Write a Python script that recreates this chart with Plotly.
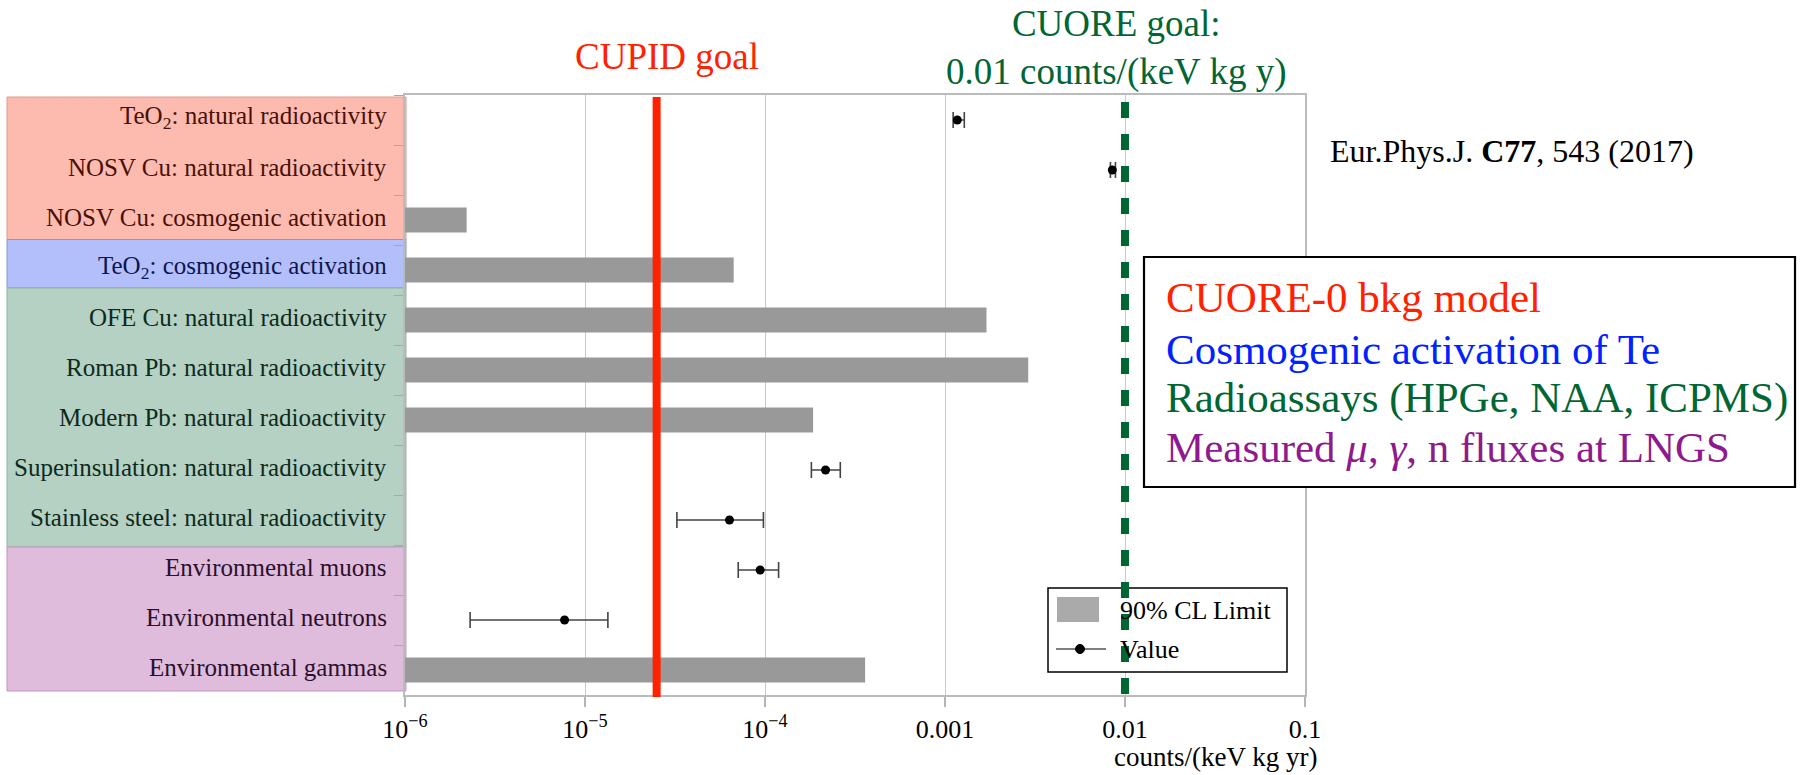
import plotly.graph_objects as go

# Background sources, top to bottom
categories = [
    "TeO<sub>2</sub>: natural radioactivity",
    "NOSV Cu: natural radioactivity",
    "NOSV Cu: cosmogenic activation",
    "TeO<sub>2</sub>: cosmogenic activation",
    "OFE Cu: natural radioactivity",
    "Roman Pb: natural radioactivity",
    "Modern Pb: natural radioactivity",
    "Superinsulation: natural radioactivity",
    "Stainless steel: natural radioactivity",
    "Environmental muons",
    "Environmental neutrons",
    "Environmental gammas",
]
# Group of each source (colour of its label band)
groups = ["model", "model", "model", "cosmo",
          "assay", "assay", "assay", "assay", "assay",
          "flux", "flux", "flux"]

# 90% CL upper limits, counts/(keV kg yr)
limit_cats = [
    "NOSV Cu: cosmogenic activation",
    "TeO<sub>2</sub>: cosmogenic activation",
    "OFE Cu: natural radioactivity",
    "Roman Pb: natural radioactivity",
    "Modern Pb: natural radioactivity",
    "Environmental gammas",
]
limit_vals = [2.2e-6, 6.7e-5, 1.7e-3, 2.9e-3, 1.85e-4, 3.6e-4]

# Measured values with their lower / upper bounds
value_cats = [
    "TeO<sub>2</sub>: natural radioactivity",
    "NOSV Cu: natural radioactivity",
    "Superinsulation: natural radioactivity",
    "Stainless steel: natural radioactivity",
    "Environmental muons",
    "Environmental neutrons",
]
value_vals = [1.17e-3, 8.5e-3, 2.17e-4, 6.35e-5, 9.4e-5, 7.7e-6]
value_lo = [1.11e-3, 8.3e-3, 1.81e-4, 3.24e-5, 7.1e-5, 2.3e-6]
value_hi = [1.28e-3, 8.85e-3, 2.62e-4, 9.8e-5, 1.19e-4, 1.34e-5]

cupid_goal = 2.5e-5
cuore_goal = 0.01

x_tickvals = [1e-6, 1e-5, 1e-4, 1e-3, 1e-2, 1e-1]
x_ticktext = ["10<sup>\u22126</sup>", "10<sup>\u22125</sup>", "10<sup>\u22124</sup>",
              "0.001", "0.01", "0.1"]

FONT = "Liberation Serif"
RED = "#ff2200"
BLUE = "#0022ff"
GREEN = "#006633"
PURPLE = "#8e1a8e"

band_fill = {"model": "#fdbbb0", "cosmo": "#b3bffa", "assay": "#b4d1c3", "flux": "#dfbcdc"}
band_edge = {"model": "#e09a8e", "cosmo": "#8796d8", "assay": "#8fb3a1", "flux": "#c096bd"}
label_color = {"model": "#4a1006", "cosmo": "#0e1650", "assay": "#0e2a1c", "flux": "#2c0f2c"}
# band extents in category units (top, bottom)
band_span = {"model": (-0.46, 2.39), "cosmo": (2.39, 3.36),
             "assay": (3.36, 8.54), "flux": (8.54, 11.42)}

W, H = 1806, 775
L, R, T, B = 405, 1305, 95, 695


def px(xp):
    return (xp - L) / (R - L)


def py(yp):
    return (B - yp) / (B - T)


fig = go.Figure()

fig.add_trace(go.Bar(
    x=limit_vals, y=limit_cats, orientation="h", width=0.5,
    marker=dict(color="#999999", line=dict(width=0)),
    showlegend=False, name="90% CL Limit",
))

fig.add_trace(go.Scatter(
    x=value_vals, y=value_cats, mode="markers",
    marker=dict(color="black", size=9),
    error_x=dict(type="data", symmetric=False,
                 array=[h - v for h, v in zip(value_hi, value_vals)],
                 arrayminus=[v - l for v, l in zip(value_vals, value_lo)],
                 color="#444444", thickness=1.6, width=8),
    showlegend=False, name="Value",
))

shapes = []
# coloured label bands
for g in ["model", "cosmo", "assay", "flux"]:
    y0, y1 = band_span[g]
    shapes.append(dict(type="rect", xref="paper", yref="y",
                       x0=px(7), x1=px(406), y0=y0, y1=y1,
                       fillcolor=band_fill[g], line=dict(color=band_edge[g], width=1),
                       layer="below"))

# legend frame and symbols
shapes += [
    dict(type="rect", xref="paper", yref="paper", x0=px(1048), x1=px(1287),
         y0=py(672), y1=py(588), fillcolor="white", line=dict(color="black", width=1.5)),
    dict(type="rect", xref="paper", yref="paper", x0=px(1057), x1=px(1099),
         y0=py(622), y1=py(597), fillcolor="#aaaaaa", line=dict(width=0)),
    dict(type="line", xref="paper", yref="paper", x0=px(1056), x1=px(1106),
         y0=py(649), y1=py(649), line=dict(color="black", width=1.2)),
    dict(type="circle", xref="paper", yref="paper", x0=px(1075.5), x1=px(1084.5),
         y0=py(653.5), y1=py(644.5), fillcolor="black", line=dict(color="black", width=1)),
]

# source-category box
shapes.append(dict(type="rect", xref="paper", yref="paper", x0=px(1144), x1=px(1795),
                   y0=py(487), y1=py(257), fillcolor="white",
                   line=dict(color="black", width=2.2)))

# goal lines
shapes.append(dict(type="line", xref="x", yref="paper", x0=cupid_goal, x1=cupid_goal,
                   y0=py(97), y1=py(697), line=dict(color=RED, width=8)))
shapes.append(dict(type="line", xref="x", yref="paper", x0=cuore_goal, x1=cuore_goal,
                   y0=py(102), y1=py(695), line=dict(color=GREEN, width=8, dash="16px,16px")))

annotations = []
for cat, g in zip(categories, groups):
    annotations.append(dict(xref="paper", yref="y", x=px(389), y=cat, text=cat,
                            xanchor="right", yanchor="middle", showarrow=False, yshift=3,
                            font=dict(family=FONT, size=25, color=label_color[g])))

annotations += [
    dict(xref="paper", yref="paper", x=px(667), y=py(56), text="CUPID goal",
         showarrow=False, xanchor="center", yanchor="middle",
         font=dict(family=FONT, size=37, color=RED)),
    dict(xref="paper", yref="paper", x=px(1116), y=py(48),
         text="CUORE goal:<br>0.01 counts/(keV kg y)",
         showarrow=False, xanchor="center", yanchor="middle",
         font=dict(family=FONT, size=37, color=GREEN)),
    dict(xref="paper", yref="paper", x=px(1328), y=py(151),
         text="Eur.Phys.J. <b>C77</b>, 543 (2017)",
         showarrow=False, xanchor="left", yanchor="middle",
         font=dict(family=FONT, size=32, color="black")),
    dict(xref="paper", yref="paper", x=px(1319), y=py(757),
         text="counts/(keV kg yr)",
         showarrow=False, xanchor="right", yanchor="middle",
         font=dict(family=FONT, size=27, color="black")),
    dict(xref="paper", yref="paper", x=px(1118), y=py(610), text="90% CL Limit",
         showarrow=False, xanchor="left", yanchor="middle",
         font=dict(family=FONT, size=26, color="black")),
    dict(xref="paper", yref="paper", x=px(1118), y=py(649), text="Value",
         showarrow=False, xanchor="left", yanchor="middle",
         font=dict(family=FONT, size=26, color="black")),
]

box_lines = [
    ("CUORE-0 bkg model", RED, 297),
    ("Cosmogenic activation of Te", BLUE, 349),
    ("Radioassays (HPGe, NAA, ICPMS)", GREEN, 398),
    ("Measured <i>\u03bc</i>, <i>\u03b3</i>, n fluxes at LNGS", PURPLE, 447),
]
for text, color, yy in box_lines:
    annotations.append(dict(xref="paper", yref="paper", x=px(1164), y=py(yy), text=text,
                            showarrow=False, xanchor="left", yanchor="middle",
                            font=dict(family=FONT, size=43, color=color)))

fig.update_layout(
    width=W, height=H,
    margin=dict(l=L, r=W - R, t=T, b=H - B, pad=0),
    paper_bgcolor="white", plot_bgcolor="white",
    font=dict(family=FONT, color="black"),
    shapes=shapes, annotations=annotations,
    showlegend=False, bargap=0.5,
)

fig.update_xaxes(
    type="log", range=[-6, -1],
    tickvals=x_tickvals, ticktext=x_ticktext,
    tickfont=dict(family=FONT, size=26, color="black"),
    ticks="outside", ticklen=10, tickcolor="#b4b4b4", tickwidth=1.5,
    showgrid=True, gridcolor="#c8c8c8", gridwidth=1.2,
    showline=True, linecolor="#bbbbbb", linewidth=2, mirror=True,
    zeroline=False,
)
fig.update_yaxes(
    type="category", categoryorder="array", categoryarray=categories,
    range=[11.5, -0.5],
    showticklabels=False, tickson="boundaries",
    ticks="outside", ticklen=9, tickcolor="#a8a8a8", tickwidth=1.2,
    showgrid=False, showline=True, linecolor="#bbbbbb", linewidth=1.5, mirror=True,
    zeroline=False,
)

fig.write_html("out.html")
